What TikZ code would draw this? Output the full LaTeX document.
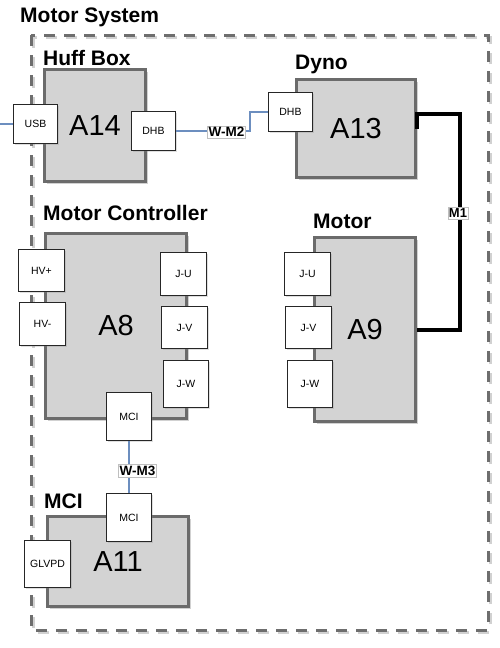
\documentclass[tikz,border=0pt]{standalone}
\usepackage{fontspec}
\setmainfont{Liberation Sans}
\usetikzlibrary{shadows}
\definecolor{boxgray}{HTML}{D3D3D3}
\definecolor{bordergray}{HTML}{6B6B6B}
\definecolor{wireblue}{HTML}{6C8EBF}
\definecolor{framegray}{HTML}{6E6E6E}
\begin{document}
\begin{tikzpicture}[x=1pt,y=-1pt,
  bigbox/.style={draw=bordergray, line width=3pt, fill=boxgray, inner sep=0pt,
    font=\fontsize{29}{30}\selectfont,
    drop shadow={shadow xshift=2pt, shadow yshift=-2pt, opacity=.3, fill=black!60}},
  portbox/.style={draw=black!85, line width=0.8pt, fill=white, inner sep=0pt,
    font=\fontsize{10.5}{12}\selectfont,
    drop shadow={shadow xshift=1pt, shadow yshift=-1pt, opacity=.25, fill=black!50}},
  grouptitle/.style={anchor=base west, inner sep=0pt, font=\fontsize{21}{24}\selectfont\bfseries},
  wirelabel/.style={draw=black!25, line width=0.5pt, fill=white, inner xsep=1.2pt, inner ysep=1.5pt,
    font=\fontsize{13.5}{14}\selectfont\bfseries},
  bluewire/.style={draw=wireblue, line width=2.4pt},
  blackwire/.style={draw=black, line width=4pt},
  framestyle/.style={line width=3pt, dash pattern=on 11pt off 9pt}
]
\useasboundingbox (0,0) rectangle (500,648);

% outer dashed frame (with faint shadow)
\draw[framestyle, draw=black!18] (33,37) rectangle (490,632);
\draw[framestyle, draw=framegray] (31,35) rectangle (488,630);

% group titles
\node[grouptitle] (tsys) at (20,22) {Motor System};
\node[grouptitle] (thuff) at (43,65) {Huff Box};
\node[grouptitle] (tdyno) at (295,69) {Dyno};
\node[grouptitle] (tctrl) at (43,220) {Motor Controller};
\node[grouptitle] (tmotor) at (313,228) {Motor};
\node[grouptitle] (tmci) at (44,508) {MCI};

% main boxes
\node[bigbox, minimum width=101pt, minimum height=112pt] (a14) at (95,125.5) {A14};
\node[bigbox, minimum width=119pt, minimum height=98pt] (a13) at (356,128.5) {A13};
\node[bigbox, minimum width=141pt, minimum height=185pt] (a8) at (116,326) {A8};
\node[bigbox, minimum width=101pt, minimum height=184pt] (a9) at (365,329.5) {A9};
\node[bigbox, minimum width=141pt, minimum height=90pt] (a11) at (118,561.5) {A11};

% ports
\node[portbox, minimum width=44pt, minimum height=39pt] (usb) at (35.5,124) {USB};
\node[portbox, minimum width=44pt, minimum height=39pt] (dhb1) at (153.5,131) {DHB};
\node[portbox, minimum width=44pt, minimum height=39pt] (dhb2) at (290.5,112) {DHB};
\node[portbox, minimum width=46pt, minimum height=42pt] (hvp) at (41.5,270.5) {HV+};
\node[portbox, minimum width=46pt, minimum height=43pt] (hvm) at (42.5,324) {HV-};
\node[portbox, minimum width=46pt, minimum height=43pt] (ju1) at (183.5,274) {J-U};
\node[portbox, minimum width=46pt, minimum height=42pt] (jv1) at (184.5,327.5) {J-V};
\node[portbox, minimum width=45pt, minimum height=47pt] (jw1) at (186,384) {J-W};
\node[portbox, minimum width=45pt, minimum height=48pt] (mci1) at (129,416.5) {MCI};
\node[portbox, minimum width=46pt, minimum height=43pt] (ju2) at (307.5,274) {J-U};
\node[portbox, minimum width=46pt, minimum height=42pt] (jv2) at (308.5,327.5) {J-V};
\node[portbox, minimum width=45pt, minimum height=47pt] (jw2) at (310,384) {J-W};
\node[portbox, minimum width=45pt, minimum height=48pt] (mci2) at (129,517.5) {MCI};
\node[portbox, minimum width=46pt, minimum height=47pt] (glvpd) at (47.5,564) {GLVPD};

% connectors
\coordinate (usbin) at (0,124);
\draw[bluewire] (usbin) -- (usb.west);

\coordinate (wm2bend) at (250,0);
\draw[bluewire] (dhb1.east) -- (dhb1.east -| wm2bend) -- (dhb2.west -| wm2bend) -- (dhb2.west);
\node[wirelabel] (lwm2) at (226.5,132) {W-M2};

\draw[bluewire] (mci1.south) -- (mci2.north);
\node[wirelabel] (lwm3) at (137.5,470.5) {W-M3};

\coordinate (m1top) at (460,114);
\draw[blackwire, line join=miter] (a13.east) -- (a13.east |- m1top) -- (m1top) |- (a9.east);
\node[wirelabel, font=\fontsize{13}{14}\selectfont\bfseries] (lm1) at (458,213) {M1};

\end{tikzpicture}
\end{document}
